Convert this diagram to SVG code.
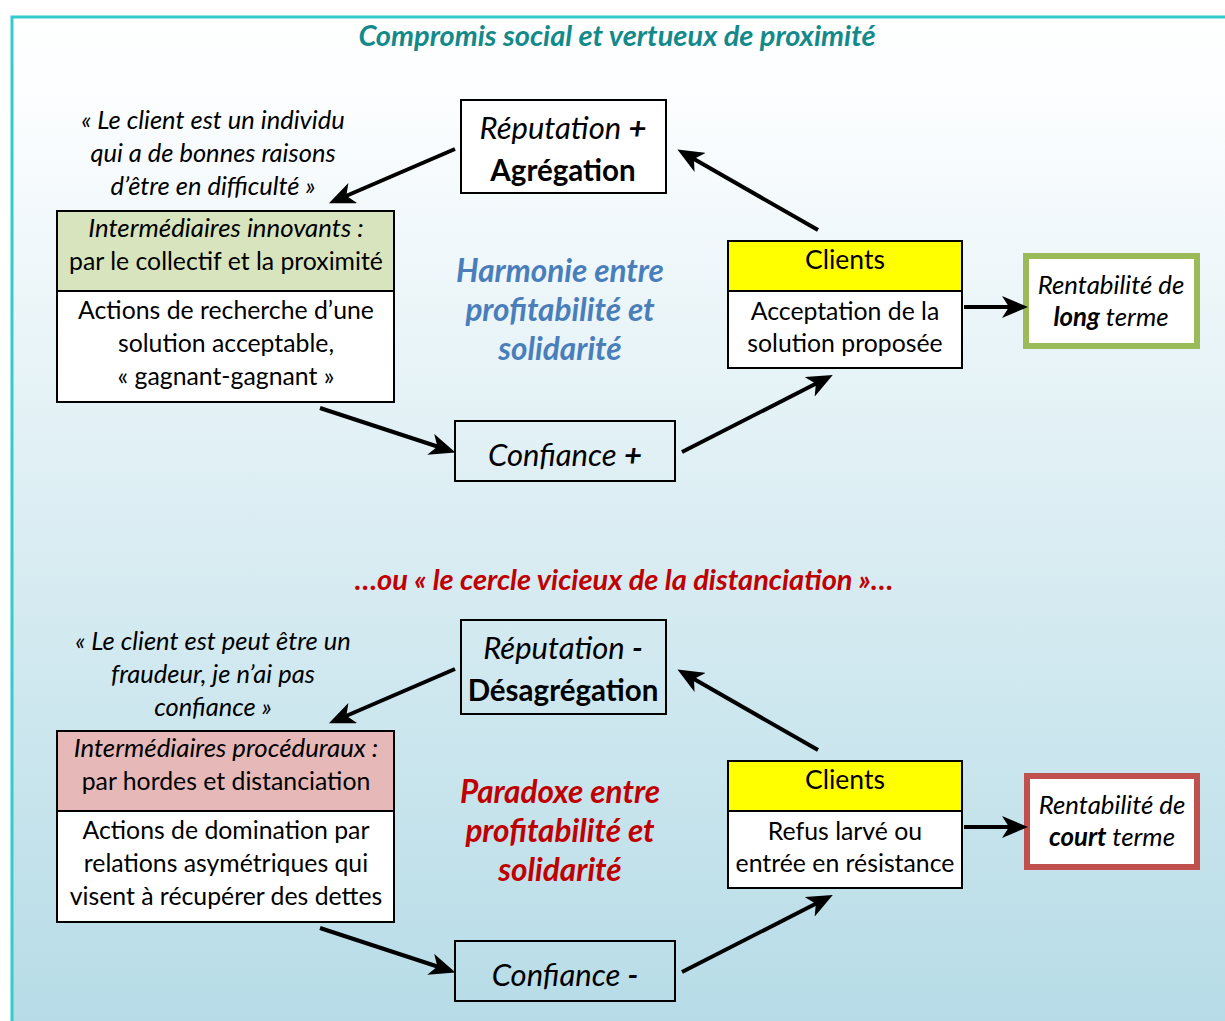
<svg xmlns="http://www.w3.org/2000/svg" width="1225" height="1021" viewBox="0 0 1225 1021">
<defs>
<linearGradient id="bg" x1="0" y1="0" x2="0" y2="1">
<stop offset="0" stop-color="#ffffff"/>
<stop offset="0.08" stop-color="#fdfeff"/>
<stop offset="0.55" stop-color="#d8ecf2"/>
<stop offset="1" stop-color="#b7dce7"/>
</linearGradient>
<marker id="ah" markerUnits="userSpaceOnUse" markerWidth="26" markerHeight="22" viewBox="0 0 26 22" refX="15" refY="11" orient="auto">
<path d="M0,0 L26,11 L0,22 L7,11 z" fill="#000"/>
</marker>
<style>
text{font-family:Lato,"Open Sans","Liberation Sans",sans-serif;fill:#000;text-anchor:middle}
.q{font-style:italic;font-size:25.5px}
.b{font-size:24.8px}
.hi{font-style:italic;font-size:25.8px}
.it{font-style:italic}
.bd{font-weight:bold}
.big{font-size:31px}
.mid{font-style:italic;font-weight:bold;font-size:31.5px}
.ttl{font-style:italic;font-weight:bold;font-size:29px}
.box{fill:#fff;stroke:#000;stroke-width:2}
.frame{fill:none;stroke:#000;stroke-width:2}
.conn line{stroke:#000;stroke-width:4}
</style>
</defs>
<rect x="0" y="0" width="1225" height="1021" fill="url(#bg)"/>
<rect x="0" y="0" width="1225" height="16" fill="#ffffff"/>
<rect x="0" y="0" width="11" height="1021" fill="#ffffff"/>
<path d="M12,1021 L12,17 L1225,17" fill="none" stroke="#33cccc" stroke-width="3"/>

<g id="title-top">
<text x="617" y="46" class="ttl" style="fill:#138a8a">Compromis social et vertueux de proximité</text>
</g>

<g id="quote-top">
<text x="213" y="129" class="q">« Le client est un individu</text>
<text x="213" y="162" class="q">qui a de bonnes raisons</text>
<text x="213" y="195" class="q">d’être en difficulté »</text>
</g>

<g id="intermediaires-innovants">
<rect x="57" y="211" width="337" height="80" fill="#d7e4bd" stroke="#000" stroke-width="2"/>
<rect x="57" y="291" width="337" height="111" class="box"/>
<text x="226" y="237" class="hi">Intermédiaires innovants :</text>
<text x="226" y="270" class="b">par le collectif et la proximité</text>
<text x="226" y="319" class="b">Actions de recherche d’une</text>
<text x="226" y="352" class="b">solution acceptable,</text>
<text x="226" y="385" class="b">« gagnant-gagnant »</text>
</g>

<g id="reputation-plus">
<rect x="461" y="100" width="205" height="93" class="box"/>
<text x="563" y="139" class="big"><tspan class="it">Réputation </tspan><tspan class="bd it">+</tspan></text>
<text x="563" y="181" class="bd" style="font-size:29.5px">Agrégation</text>
</g>

<g id="harmonie">
<text x="560" y="282" class="mid" style="fill:#4a7ebb">Harmonie entre</text>
<text x="560" y="321" class="mid" style="fill:#4a7ebb">profitabilité et</text>
<text x="560" y="360" class="mid" style="fill:#4a7ebb">solidarité</text>
</g>

<g id="clients-top">
<rect x="728" y="241" width="234" height="50" fill="#ffff00" stroke="#000" stroke-width="2"/>
<rect x="728" y="291" width="234" height="77" class="box"/>
<text x="845" y="269" style="font-size:26.5px">Clients</text>
<text x="845" y="320" class="b">Acceptation de la</text>
<text x="845" y="352" class="b">solution proposée</text>
</g>

<g id="rentabilite-long">
<rect x="1026" y="256" width="171" height="90" fill="#fff" stroke="#9bbb59" stroke-width="6"/>
<text x="1111" y="294" class="hi">Rentabilité de</text>
<text x="1111" y="326" class="hi"><tspan class="bd">long</tspan> terme</text>
</g>

<g id="confiance-plus">
<rect x="455" y="421" width="220" height="60" class="frame"/>
<text x="565" y="466" class="big"><tspan class="it">Confiance </tspan><tspan class="bd it">+</tspan></text>
</g>

<g id="title-bottom">
<text x="624" y="590" class="ttl" style="fill:#c00000">…ou « le cercle vicieux de la distanciation »…</text>
</g>

<g id="quote-bottom">
<text x="213" y="650" class="q">« Le client est peut être un</text>
<text x="213" y="683" class="q">fraudeur, je n’ai pas</text>
<text x="213" y="716" class="q">confiance »</text>
</g>

<g id="intermediaires-proceduraux">
<rect x="57" y="731" width="337" height="80" fill="#e6b9b8" stroke="#000" stroke-width="2"/>
<rect x="57" y="811" width="337" height="111" class="box"/>
<text x="226" y="757" class="hi">Intermédiaires procéduraux :</text>
<text x="226" y="790" class="b">par hordes et distanciation</text>
<text x="226" y="839" class="b">Actions de domination par</text>
<text x="226" y="872" class="b">relations asymétriques qui</text>
<text x="226" y="905" class="b">visent à récupérer des dettes</text>
</g>

<g id="reputation-moins">
<rect x="461" y="620" width="205" height="94" class="frame"/>
<text x="563" y="659" class="big"><tspan class="it">Réputation </tspan><tspan class="bd it">-</tspan></text>
<text x="563" y="701" class="bd" style="font-size:29.5px">Désagrégation</text>
</g>

<g id="paradoxe">
<text x="560" y="803" class="mid" style="fill:#c00000">Paradoxe entre</text>
<text x="560" y="842" class="mid" style="fill:#c00000">profitabilité et</text>
<text x="560" y="881" class="mid" style="fill:#c00000">solidarité</text>
</g>

<g id="clients-bottom">
<rect x="728" y="761" width="234" height="50" fill="#ffff00" stroke="#000" stroke-width="2"/>
<rect x="728" y="811" width="234" height="77" class="box"/>
<text x="845" y="789" style="font-size:26.5px">Clients</text>
<text x="845" y="840" class="b">Refus larvé ou</text>
<text x="845" y="872" class="b">entrée en résistance</text>
</g>

<g id="rentabilite-court">
<rect x="1027" y="776" width="170" height="91" fill="#fff" stroke="#c0504d" stroke-width="6"/>
<text x="1112" y="814" class="hi">Rentabilité de</text>
<text x="1112" y="846" class="hi"><tspan class="bd">court</tspan> terme</text>
</g>

<g id="confiance-moins">
<rect x="455" y="941" width="220" height="60" class="frame"/>
<text x="565" y="986" class="big"><tspan class="it">Confiance </tspan><tspan class="bd it">-</tspan></text>
</g>

<g id="connectors" class="conn">
<line x1="455" y1="149" x2="339" y2="199" marker-end="url(#ah)"/>
<line x1="818" y1="230" x2="687" y2="155" marker-end="url(#ah)"/>
<line x1="320" y1="408" x2="445" y2="449" marker-end="url(#ah)"/>
<line x1="682" y1="452" x2="823" y2="380" marker-end="url(#ah)"/>
<line x1="964" y1="307" x2="1017" y2="307" marker-end="url(#ah)"/>
<line x1="455" y1="669" x2="339" y2="719" marker-end="url(#ah)"/>
<line x1="818" y1="750" x2="687" y2="675" marker-end="url(#ah)"/>
<line x1="320" y1="928" x2="445" y2="969" marker-end="url(#ah)"/>
<line x1="682" y1="972" x2="823" y2="900" marker-end="url(#ah)"/>
<line x1="964" y1="827" x2="1017" y2="827" marker-end="url(#ah)"/>
</g>
</svg>
